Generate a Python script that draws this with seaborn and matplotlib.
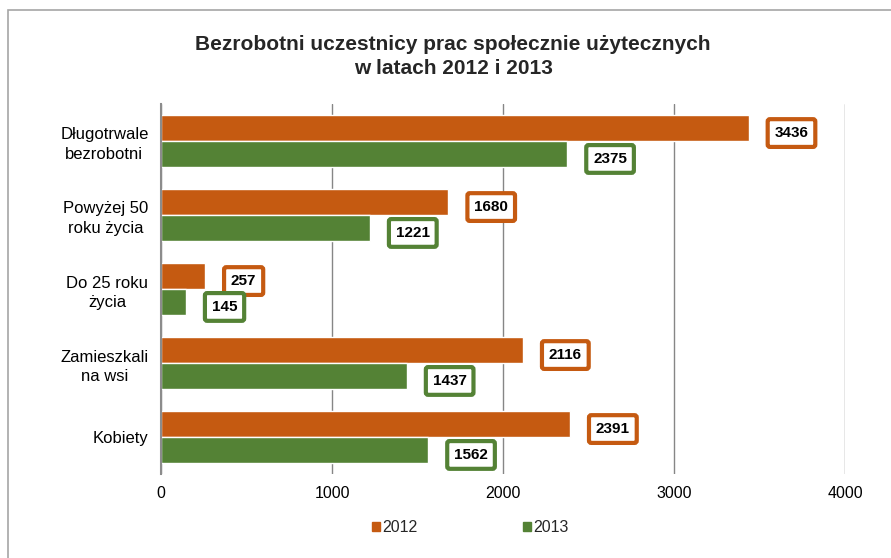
import pandas as pd
import matplotlib
matplotlib.use('Agg')
import matplotlib.pyplot as plt
import matplotlib.patches as mpatches
import seaborn as sns

# Data
categories = ['Długotrwale\nbezrobotni', 'Powyżej 50\nroku życia', 'Do 25 roku\nżycia',
              'Zamieszkali\nna wsi', 'Kobiety']
years = ['2012', '2013']
values_2012 = [3436, 1680, 257, 2116, 2391]
values_2013 = [2375, 1221, 145, 1437, 1562]
x_ticks = [0, 1000, 2000, 3000, 4000]

colors = {'2012': '#C55A11', '2013': '#548235'}

df = pd.DataFrame({
    'Kategoria': categories * 2,
    'Rok': ['2012'] * len(categories) + ['2013'] * len(categories),
    'Liczba': values_2012 + values_2013,
})

sns.set_style('white')
plt.rcParams['font.family'] = ['Liberation Sans', 'DejaVu Sans']

fig = plt.figure(figsize=(8.91, 5.58), dpi=100)
ax = fig.add_axes([161 / 891, 1 - 474 / 558, (845 - 161) / 891, (474 - 104) / 558])

sns.barplot(data=df, y='Kategoria', x='Liczba', hue='Rok', hue_order=years,
            palette=colors, orient='h', width=0.7, saturation=1,
            legend=False, ax=ax)

ax.set_xlim(0, 4000)
ax.set_ylim(len(categories) - 0.5, -0.5)
ax.set_xticks(x_ticks)
ax.set_xlabel('')
ax.set_ylabel('')
ax.grid(axis='x', color='#868686', lw=1)
ax.set_axisbelow(True)
for s in ['top', 'right', 'bottom']:
    ax.spines[s].set_visible(False)
ax.spines['left'].set_color('#8C8C8C')
ax.spines['left'].set_linewidth(1.5)
ax.tick_params(axis='x', length=0, pad=9, labelsize=11.5, colors='black')
ax.tick_params(axis='y', length=0, pad=9, labelsize=12, colors='black')
for lab in ax.get_yticklabels():
    lab.set_multialignment('center')
    lab.set_linespacing(1.35)

# Value labels in framed boxes
for year, container in zip(years, ax.containers):
    for bar in container:
        w = bar.get_width()
        yc = bar.get_y() + bar.get_height() / 2
        ax.annotate(f'{int(round(w))}', xy=(w, yc), xytext=(26, -5),
                    textcoords='offset pixels', ha='left', va='center',
                    fontsize=11, fontweight='bold', color='black',
                    bbox=dict(boxstyle='round,pad=0.45,rounding_size=0.15',
                              fc='white', ec=colors[year], lw=3))

# Legend
handles = [mpatches.Patch(color=colors[y], label=y) for y in years]
fig.legend(handles=handles, loc='center', bbox_to_anchor=(470 / 891, 1 - 528 / 558),
           ncol=2, frameon=False, fontsize=11.5, handlelength=0.5, handleheight=0.5,
           handletextpad=0.15, columnspacing=6.6)

# Title
fig.text(453 / 891, 1 - 56.5 / 558,
         'Bezrobotni uczestnicy prac społecznie użytecznych\nw latach 2012 i 2013',
         ha='center', va='center', fontsize=15, fontweight='bold', linespacing=1.3)

# Outer chart frame
fig.patches.append(mpatches.Rectangle((8 / 891, -0.1), 1.2, 1 - 10 / 558 + 0.1,
                                      transform=fig.transFigure, fill=False,
                                      ec='#A6A6A6', lw=1.2))

fig.savefig('out.png', dpi=100)
